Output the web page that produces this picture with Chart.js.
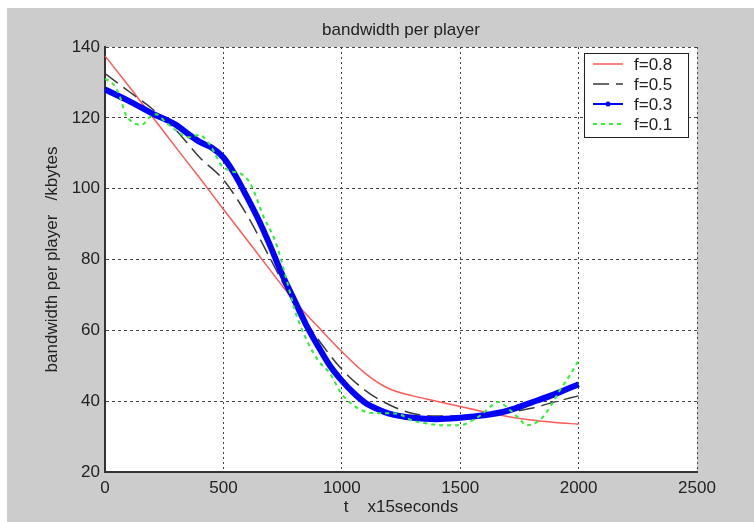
<!DOCTYPE html>
<html lang="en">
<head>
<meta charset="UTF-8">
<title>bandwidth per player</title>
<script src="https://cdn.jsdelivr.net/npm/chart.js"></script>
<style>
  html, body { margin: 0; padding: 0; background: #fff; }
  #wrap { width: 754px; height: 522px; }
</style>
</head>
<body>
<div id="wrap"><canvas id="bw" width="754" height="522"></canvas></div>
<script>
// t is in units of 15 seconds, bandwidth in kbytes
const chartTitle = 'bandwidth per player';
const seriesNames = ['f=0.8', 'f=0.5', 'f=0.3', 'f=0.1'];

const tRed  = [0, 100, 200, 300, 400, 500, 600, 700, 800, 900, 1000, 1100, 1200, 1300, 1400, 1500, 1600, 1700, 1800, 1900, 2000];
const bwRed = [137.5, 129, 120.3, 111.6, 103, 94.2, 85.5, 76.8, 68.2, 61, 54, 47.8, 43.5, 41.5, 40, 38.5, 37, 35.7, 34.7, 34, 33.5];

const tBlack  = [0, 100, 200, 300, 400, 500, 600, 700, 800, 900, 1000, 1100, 1200, 1300, 1400, 1500, 1600, 1700, 1800, 1900, 2000];
const bwBlack = [132.5, 127.5, 122.5, 116.5, 108.8, 102.5, 92.5, 80, 67.5, 57.5, 49, 43, 39, 36.5, 35.8, 35.8, 36.2, 36.8, 38, 39.8, 41.5];

const tBlue  = [0, 100, 200, 300, 350, 400, 450, 500, 550, 600, 650, 700, 750, 800, 850, 900, 950, 1000, 1050, 1100, 1150, 1200, 1300, 1400, 1500, 1600, 1700, 1800, 1900, 2000];
const bwBlue = [128, 124.8, 121.2, 118, 115.5, 113.2, 111.6, 108.8, 103.8, 97.6, 91, 83.5, 75.5, 68.5, 61.5, 55.5, 50, 45.8, 42.3, 39.5, 37.8, 36.5, 35.3, 34.9, 35.3, 36, 37.3, 39.6, 42, 44.8];

const tGreen  = [0, 35, 63, 85, 113, 155, 190, 215, 260, 300, 350, 400, 430, 460, 490, 540, 575, 615, 670, 720, 770, 800, 850, 900, 950, 1000, 1050, 1100, 1150, 1230, 1300, 1360, 1420, 1500, 1550, 1590, 1630, 1660, 1710, 1750, 1780, 1810, 1850, 1890, 1920, 1960, 2000];
const bwGreen = [131, 129.5, 126, 121.3, 118.9, 118, 120.3, 121, 118.5, 116.5, 114.5, 115.2, 113.5, 110.5, 106.7, 104.8, 104.2, 101.3, 92, 85, 73.5, 66, 57.5, 51.5, 47.8, 42, 38.8, 37, 36.6, 36.5, 34.5, 33.7, 33.2, 33.2, 34.5, 36.2, 38.6, 39.8, 37.5, 35, 33.2, 33.6, 35.6, 39.5, 43, 47, 51.5];

const xTicks = [0, 500, 1000, 1500, 2000, 2500];
const yTicks = [20, 40, 60, 80, 100, 120, 140];

const FONT = '"Liberation Sans", Arial, sans-serif';

function pts(xs, ys) {
    return xs.map((x, i) => ({ x: x, y: ys[i] }));
}

// grey figure background + white axes area, title centred over the axes
const backdrop = {
    id: 'backdrop',
    beforeDraw(chart) {
        const ctx = chart.ctx;
        const a = chart.chartArea;
        ctx.save();
        ctx.fillStyle = '#ffffff';
        ctx.fillRect(0, 0, chart.width, chart.height);
        ctx.fillStyle = '#cccccc';
        ctx.fillRect(7, 8, chart.width - 7, chart.height - 8);
        ctx.fillStyle = '#ffffff';
        ctx.fillRect(a.left, a.top, a.right - a.left, a.bottom - a.top);
        ctx.fillStyle = '#222';
        ctx.font = '17px ' + FONT;
        ctx.textAlign = 'center';
        ctx.textBaseline = 'middle';
        ctx.fillText(chartTitle, (a.left + a.right) / 2, a.top - 17);
        ctx.restore();
    }
};

// matlab style legend box in the top right corner
const boxLegend = {
    id: 'boxLegend',
    afterDraw(chart) {
        const ctx = chart.ctx;
        const a = chart.chartArea;
        const x0 = a.right - 113, y0 = a.top + 6, w = 104, h = 84;
        ctx.save();
        ctx.fillStyle = '#ffffff';
        ctx.fillRect(x0, y0, w, h);
        ctx.strokeStyle = '#222';
        ctx.lineWidth = 1;
        ctx.strokeRect(x0 + 0.5, y0 + 0.5, w, h);
        ctx.font = '17px ' + FONT;
        ctx.textBaseline = 'middle';
        chart.data.datasets.forEach((ds, i) => {
            const y = y0 + 11 + i * 20;
            ctx.strokeStyle = ds.borderColor;
            ctx.lineWidth = Math.min(ds.borderWidth, 2);
            ctx.setLineDash(ds.borderDash || []);
            ctx.beginPath();
            ctx.moveTo(x0 + 9, y);
            ctx.lineTo(x0 + 39, y);
            ctx.stroke();
            ctx.setLineDash([]);
            if (ds.legendDot) {
                ctx.fillStyle = ds.borderColor;
                ctx.beginPath();
                ctx.arc(x0 + 24, y, 2.5, 0, Math.PI * 2);
                ctx.fill();
            }
            ctx.fillStyle = '#222';
            ctx.fillText(seriesNames[i], x0 + 50, y + 1);
        });
        ctx.restore();
    }
};

const ctx = document.getElementById('bw').getContext('2d');
const chart = new Chart(ctx, {
    type: 'line',
    data: {
        datasets: [
            { label: seriesNames[0], data: pts(tRed, bwRed), borderColor: '#ff5a5a', borderWidth: 1.5, order: 4 },
            { label: seriesNames[1], data: pts(tBlack, bwBlack), borderColor: '#3a3a3a', borderWidth: 1.5, borderDash: [16, 7], order: 3 },
            { label: seriesNames[2], data: pts(tBlue, bwBlue), borderColor: '#0000ff', borderWidth: 6, order: 2, legendDot: true },
            { label: seriesNames[3], data: pts(tGreen, bwGreen), borderColor: '#33ee33', borderWidth: 2, borderDash: [4, 4], order: 1 }
        ]
    },
    options: {
        responsive: false,
        animation: false,
        events: [],
        elements: {
            point: { radius: 0 },
            line: { cubicInterpolationMode: 'monotone', fill: false }
        },
        layout: { padding: { left: 0, top: 47, right: 57, bottom: 0 } },
        plugins: {
            legend: { display: false },
            tooltip: { enabled: false },
            title: { display: false }
        },
        scales: {
            x: {
                type: 'linear',
                min: 0,
                max: 2500,
                afterBuildTicks: s => { s.ticks = xTicks.map(v => ({ value: v })); },
                afterFit: s => { s.height = 50; },
                ticks: {
                    color: '#222', padding: 6, maxRotation: 0,
                    font: { family: FONT, size: 17 },
                    callback: v => String(v)
                },
                grid: { color: '#444', lineWidth: 1, drawTicks: false },
                border: { display: true, color: '#333', width: 2, dash: [2, 3] },
                title: {
                    display: true,
                    text: 't    x15seconds',
                    color: '#222',
                    padding: 4,
                    font: { family: FONT, size: 17 }
                }
            },
            y: {
                min: 20,
                max: 140,
                afterBuildTicks: s => { s.ticks = yTicks.map(v => ({ value: v })); },
                afterFit: s => { s.width = 105; },
                ticks: {
                    color: '#222', padding: 5,
                    font: { family: FONT, size: 17 },
                    callback: v => String(v)
                },
                grid: { color: '#444', lineWidth: 1, drawTicks: false },
                border: { display: true, color: '#333', width: 2, dash: [3, 3] },
                title: {
                    display: true,
                    text: 'bandwidth per player   /kbytes',
                    color: '#222',
                    padding: 42,
                    font: { family: FONT, size: 17 }
                }
            }
        }
    },
    plugins: [backdrop, boxLegend]
});
</script>
</body>
</html>
